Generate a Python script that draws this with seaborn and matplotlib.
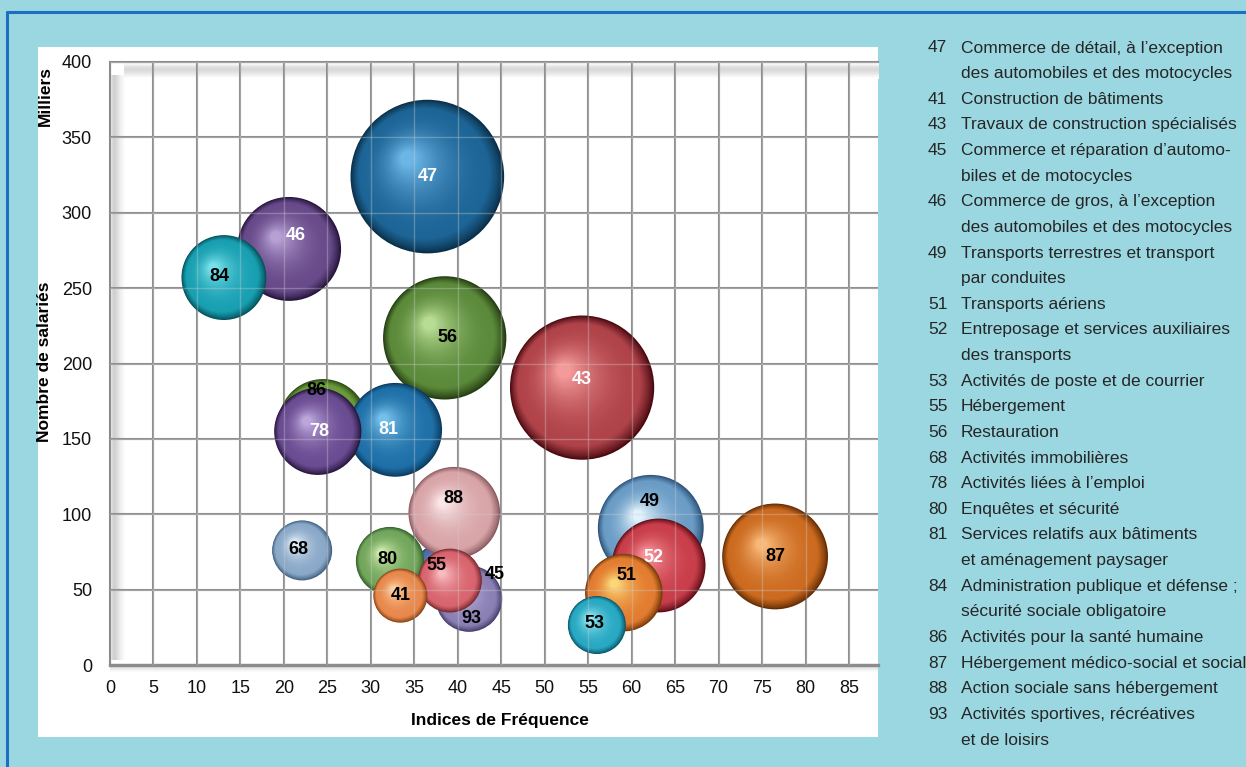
import numpy as np
import pandas as pd
import matplotlib
matplotlib.use("Agg")
import matplotlib.pyplot as plt
import matplotlib.colors as mcolors
from matplotlib.patches import Rectangle
from matplotlib.lines import Line2D
from matplotlib.transforms import offset_copy
from matplotlib import font_manager
import seaborn as sns

# ---- data: sectors (NAF codes), in drawing order (back to front) ----
codes = ["47", "43", "56", "49", "87", "46", "86", "81", "78", "84",
         "45", "88", "52", "51", "53", "93", "80", "55", "41", "68"]
freq_index = [36.5, 54.3, 38.5, 62.2, 76.5, 20.6, 24.5, 32.8, 23.9, 13.1,
              38.0, 39.6, 63.1, 59.1, 56.0, 41.3, 32.2, 39.1, 33.4, 22.1]
employees_k = [324, 184, 217, 91, 72, 276, 160, 156, 155, 257,
               64, 101, 66, 48, 26.5, 44, 69, 56, 46, 76]
bubble_size = [59, 52, 38, 28, 28, 27, 20, 22, 19, 18,
               6.2, 21, 22, 15, 8.4, 11, 11.6, 10.2, 7.3, 9]

x_ticks = list(range(0, 90, 5))
y_ticks = list(range(0, 450, 50))

legend_codes = ["47", "41", "43", "45", "46", "49", "51", "52", "53", "55",
                "56", "68", "78", "80", "81", "84", "86", "87", "88", "93"]
legend_labels = [
    "Commerce de détail, à l’exception\ndes automobiles et des motocycles",
    "Construction de bâtiments",
    "Travaux de construction spécialisés",
    "Commerce et réparation d’automo-\nbiles et de motocycles",
    "Commerce de gros, à l’exception\ndes automobiles et des motocycles",
    "Transports terrestres et transport\npar conduites",
    "Transports aériens",
    "Entreposage et services auxiliaires\ndes transports",
    "Activités de poste et de courrier",
    "Hébergement",
    "Restauration",
    "Activités immobilières",
    "Activités liées à l’emploi",
    "Enquêtes et sécurité",
    "Services relatifs aux bâtiments\net aménagement paysager",
    "Administration publique et défense ;\nsécurité sociale obligatoire",
    "Activités pour la santé humaine",
    "Hébergement médico-social et social",
    "Action sociale sans hébergement",
    "Activités sportives, récréatives\net de loisirs",
]

# ---- styling ----
# (rim, body, highlight) for each sphere
sphere_colors = {
    "47": ("#0a2f4a", "#1d6596", "#6cb6e6"),
    "43": ("#4a0a10", "#b0434a", "#f49a9a"),
    "56": ("#243c12", "#5b8a3a", "#b8dc94"),
    "49": ("#2c5278", "#6a9cc6", "#e0f2fc"),
    "87": ("#642c04", "#cc6b20", "#f8b878"),
    "46": ("#24143a", "#684a8a", "#b6a0d4"),
    "86": ("#2c4814", "#6a9a3a", "#bcde94"),
    "81": ("#0a3a5e", "#1f70a8", "#74c0ea"),
    "78": ("#28163e", "#6a4c92", "#bca6dc"),
    "84": ("#05505a", "#18a0b2", "#78e0ea"),
    "45": ("#243a68", "#4a6aa8", "#9ab8e8"),
    "88": ("#8a5a60", "#d8a4a8", "#fae6e6"),
    "52": ("#5e0c16", "#c83e4a", "#f89098"),
    "51": ("#763808", "#e27c30", "#fcd678"),
    "53": ("#0a5668", "#28a8c2", "#96e8f4"),
    "93": ("#463c6c", "#8a80b4", "#d4ccee"),
    "80": ("#34602a", "#72a65c", "#d0ecae"),
    "55": ("#782830", "#d8646e", "#f8bcc0"),
    "41": ("#884214", "#e8884c", "#fdd0a0"),
    "68": ("#42607e", "#8aa8c8", "#e0eef8"),
}
white_labels = {"47", "46", "43", "78", "81", "52"}
# label nudges in points (dx, dy)
label_nudge = {"46": (5, 10), "84": (-3, 1), "56": (2, 0), "43": (0, 6),
               "86": (-5, 24), "81": (-5, 0), "88": (-1, 10), "68": (-3, 1),
               "80": (-2, 1), "55": (-10, 11), "45": (39, -4), "93": (2, -14),
               "49": (-1, 19), "52": (-4, 6), "51": (2, 12), "53": (-2, 1),
               "78": (1, 0)}

def pick_family():
    for fam in ["Liberation Sans Narrow", "Arial Narrow", "Liberation Sans"]:
        try:
            font_manager.findfont(font_manager.FontProperties(family=fam),
                                  fallback_to_default=False)
            return fam
        except Exception:
            continue
    return "DejaVu Sans"

sns.set_theme(style="white")
FAM = pick_family()
narrow = "Narrow" in FAM
plt.rcParams["font.family"] = [FAM, "DejaVu Sans"]

W, H = 1246, 767
BG = "#9bd7e1"
fig = plt.figure(figsize=(W / 100, H / 100), dpi=100, facecolor=BG)

def fx(px):
    return px / W

def fy(py):
    return 1 - py / H

# frame of the figure
fig.add_artist(Line2D([fx(7), fx(7)], [fy(12), 0], color="#1c6fbe", lw=2.2,
                      transform=fig.transFigure))
fig.add_artist(Line2D([fx(7), 1], [fy(12), fy(12)], color="#1c6fbe", lw=2.2,
                      transform=fig.transFigure))
# white chart panel
fig.add_artist(Rectangle((fx(38), fy(737)), fx(878) - fx(38), fy(47) - fy(737),
                         facecolor="white", edgecolor="none",
                         transform=fig.transFigure, zorder=0))

ax_l, ax_r, ax_t, ax_b = 110, 878, 62, 665
ax = fig.add_axes([fx(ax_l), fy(ax_b), fx(ax_r) - fx(ax_l), fy(ax_t) - fy(ax_b)])
ax.set_facecolor("white")

XMAX = 85 * (ax_r - ax_l) / (849 - ax_l)

# back wall shading
grad_left = np.array([0.97, 0.85, 0.81, 0.83, 0.86, 0.90, 0.93, 0.96, 0.98, 1.0])
ax.imshow(grad_left[None, :], extent=(0, 0.020, 0.008, 0.978), transform=ax.transAxes,
          cmap="gray", vmin=0, vmax=1, aspect="auto", zorder=0.5,
          interpolation="bilinear")
grad_top = np.array([0.98, 0.91, 0.86, 0.85, 0.88, 0.92, 0.96, 1.0])[:, None]
ax.imshow(grad_top, extent=(0.018, 1, 0.972, 0.997), transform=ax.transAxes,
          cmap="gray", vmin=0, vmax=1, aspect="auto", zorder=0.5,
          interpolation="bilinear")
grad_floor = np.linspace(0.84, 1.0, 8)[:, None]
ax.imshow(grad_floor, extent=(0, 1, -0.013, 0), transform=ax.transAxes,
          cmap="gray", vmin=0, vmax=1, aspect="auto", zorder=0.5,
          interpolation="bilinear", clip_on=False)

ax.set_xlim(0, XMAX)
ax.set_ylim(0, 400)
ax.set_xticks(x_ticks)
ax.set_yticks(y_ticks)
ax.grid(True, color="#8c8c8c", lw=1.5, zorder=1)
ax.set_axisbelow(True)
for sp in ax.spines.values():
    sp.set_color("#8c8c8c")
    sp.set_linewidth(1.5)
ax.spines["right"].set_visible(False)
ax.spines["bottom"].set_linewidth(2.4)

tick_size = 14 if narrow else 13
ax.tick_params(axis="both", length=0, labelsize=tick_size, colors="#111111")
ax.tick_params(axis="y", pad=13)
ax.tick_params(axis="x", pad=11)

# ---- bubbles ----
S_SCALE = 4 * (0.72 ** 2) * 100  # marker area (pt^2) per unit of bubble_size

df = pd.DataFrame({"code": codes, "freq": freq_index,
                   "emp": employees_k, "size": bubble_size})

def ramp(rim, body, light, t):
    rim, body, light = (np.array(mcolors.to_rgb(c)) for c in (rim, body, light))
    if t < 0.16:
        u = (t / 0.16) ** 0.8
        return tuple(rim * (1 - u) + body * u)
    u = ((t - 0.16) / 0.84) ** 2.0
    return tuple(body * (1 - u) + light * u)

n_layers = 48
for _, row in df.iterrows():
    rim, body, light = sphere_colors[row["code"]]
    s_full = S_SCALE * row["size"]
    R = np.sqrt(s_full) / 2  # radius in points
    # outer body of the sphere
    sns.scatterplot(x=[row["freq"]], y=[row["emp"]], s=s_full, color=rim,
                    edgecolor="none", linewidth=0, legend=False, ax=ax,
                    zorder=2)
    # shading: shrinking discs drifting toward the upper-left highlight
    for k in range(1, n_layers):
        t = k / (n_layers - 1)
        f = 1 - 0.90 * t
        dx = -(1 - f) * R * 0.28
        dy = (1 - f) * R * 0.26
        tr = offset_copy(ax.transData, fig=fig, x=dx, y=dy, units="points")
        ax.scatter([row["freq"]], [row["emp"]], s=s_full * f ** 2,
                   color=ramp(rim, body, light, t), edgecolor="none",
                   linewidth=0, transform=tr, zorder=2)

# faint grid showing through the translucent spheres
for xv in x_ticks[1:]:
    ax.axvline(xv, color="#d0d0d0", lw=1.0, alpha=0.35, zorder=3)
for yv in y_ticks[1:]:
    ax.axhline(yv, color="#d0d0d0", lw=1.0, alpha=0.35, zorder=3)

label_family = [FAM, "DejaVu Sans"]
label_size = 14 if narrow else 13
for _, row in df.iterrows():
    c = row["code"]
    dx, dy = label_nudge.get(c, (0, 0))
    ax.annotate(c, (row["freq"], row["emp"]), xytext=(dx, dy),
                textcoords="offset points", ha="center", va="center",
                fontsize=label_size, fontweight="bold", family=label_family,
                color="white" if c in white_labels else "black", zorder=5)

# ---- axis titles ----
title_size = 14 if narrow else 12.5
ax.set_xlabel("Indices de Fréquence", fontsize=title_size, fontweight="bold",
              color="black")
ax.xaxis.set_label_coords((500 - ax_l) / (ax_r - ax_l), -(720 - ax_b) / (ax_b - ax_t))
ax.xaxis.label.set_va("center")
ax.set_ylabel("Nombre de salariés", fontsize=title_size, fontweight="bold",
              color="black")
ax.yaxis.set_label_coords(-(ax_l - 45) / (ax_r - ax_l), 1 - (362 - ax_t) / (ax_b - ax_t))
ax.yaxis.label.set_va("center")
fig.text(fx(45), fy(96), "Milliers", rotation=90, ha="center", va="center",
         fontsize=title_size, fontweight="bold", color="black")

# ---- sector list ----
text_size = 14 if narrow else 12.5
line_h = 25.63
row_i = 0
for code, label in zip(legend_codes, legend_labels):
    lines = label.split("\n")
    for j, line in enumerate(lines):
        y = 48 + line_h * row_i
        if j == 0:
            fig.text(fx(928), fy(y), code, ha="left", va="center",
                     fontsize=text_size, color="#262626")
        fig.text(fx(961), fy(y), line, ha="left", va="center",
                 fontsize=text_size, color="#262626")
        row_i += 1

fig.savefig("out.png", dpi=100, facecolor=BG)
